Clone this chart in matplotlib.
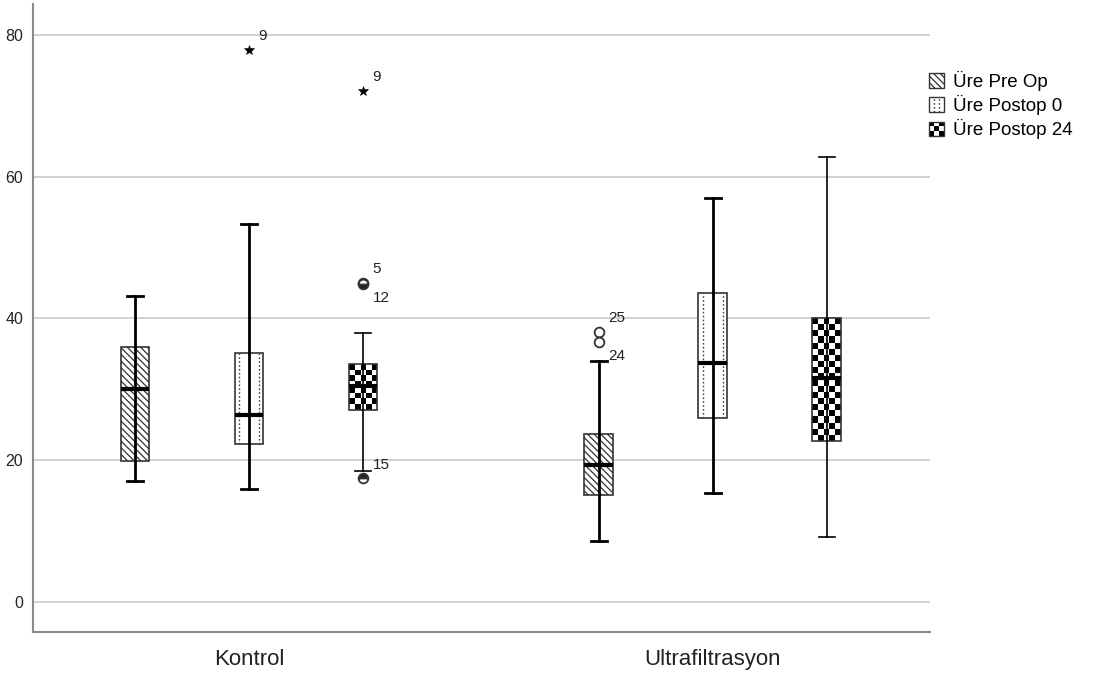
import numpy as np
import matplotlib
matplotlib.use("Agg")
import matplotlib.pyplot as plt
from matplotlib.patches import Rectangle, Patch
from matplotlib.lines import Line2D
from matplotlib.legend_handler import HandlerBase

# ---------------- data ----------------
groups = ["Kontrol", "Ultrafiltrasyon"]
series = ["Üre Pre Op", "Üre Postop 0", "Üre Postop 24"]

# [group][series]
whislo = [[17.0, 15.9, 18.5], [8.5, 15.4, 9.1]]
q1     = [[19.8, 22.2, 27.1], [15.0, 26.0, 22.7]]
med    = [[30.1, 26.4, 30.5], [19.3, 33.7, 31.6]]
q3     = [[35.9, 35.1, 33.5], [23.7, 43.6, 40.0]]
whishi = [[43.1, 53.3, 38.0], [34.0, 57.0, 62.8]]

# outliers: group, series, value, case label
out_group  = [0, 0, 0, 0, 0, 1, 1]
out_series = [1, 2, 2, 2, 2, 0, 0]
out_value  = [77.9, 72.1, 45.0, 44.8, 17.4, 38.1, 36.7]
out_label  = ["9", "9", "5", "12", "15", "25", "24"]
out_kind   = ["extreme", "extreme", "outlier", "outlier", "outlier", "outlier", "outlier"]

yticks = [0, 20, 40, 60, 80]

# ---------------- style / layout ----------------
plt.rcParams['font.family'] = ['Liberation Sans', 'DejaVu Sans']
plt.rcParams['hatch.linewidth'] = 0.9
W, H = 1093, 675
fig = plt.figure(figsize=(W / 100, H / 100), dpi=100)
ax = fig.add_axes([33 / W, 43 / H, 897 / W, 628 / H])

group_centers = [0.0, 4.07]
offsets = [-1.0, 0.0, 1.0]
box_w = 0.254
cap_w = 0.14
line_w = [2.0, 2.0, 1.2]
label_dir = [1, 1, 1, -1, 1, 1, -1]
fill_style = ['full', 'full', 'bottom', 'bottom', 'top', 'none', 'none']

ylim = (-4.28, 84.4)
xlim = (-1.895, 5.974)
ax.set_xlim(*xlim)
ax.set_ylim(*ylim)

ax.set_axisbelow(True)
ax.yaxis.grid(True, color='#cfcfcf', lw=1.3)
for s in ['top', 'right']:
    ax.spines[s].set_visible(False)
for s in ['left', 'bottom']:
    ax.spines[s].set_color('#8a8a8a')
    ax.spines[s].set_linewidth(1.5)

px_per_unit_y = 628 / (ylim[1] - ylim[0])
px_per_unit_x = 897 / (xlim[1] - xlim[0])

for si in range(3):
    stats = []
    pos = []
    for gi in range(2):
        stats.append(dict(whislo=whislo[gi][si], q1=q1[gi][si], med=med[gi][si],
                          q3=q3[gi][si], whishi=whishi[gi][si], fliers=[]))
        pos.append(group_centers[gi] + offsets[si])
    bp = ax.bxp(stats, positions=pos, widths=box_w, capwidths=cap_w,
                patch_artist=True, showfliers=False, manage_ticks=False,
                boxprops=dict(facecolor='white', edgecolor='#333333', lw=1.2),
                whiskerprops=dict(color='black', lw=line_w[si]),
                capprops=dict(color='black', lw=line_w[si]),
                medianprops=dict(color='black', lw=3, solid_capstyle='butt'),
                zorder=3)
    for gi, box in enumerate(bp['boxes']):
        x = pos[gi]
        if si == 0:
            box.set_hatch('\\\\\\\\\\')
        elif si == 1:
            for dx in (-0.34 * box_w, 0.34 * box_w):
                ax.vlines(x + dx, q1[gi][si], q3[gi][si], colors='#444444',
                          lw=1.0, linestyles=(0, (1.2, 1.6)), zorder=3.5)
        else:
            box.set_facecolor('none')
            nrows = max(1, int(round((q3[gi][si] - q1[gi][si]) * px_per_unit_y / 6.0)))
            ncols = max(1, int(round(box_w * px_per_unit_x / 6.0)))
            ii, jj = np.indices((nrows, ncols))
            arr = ((ii + jj) % 2).astype(float)
            im = ax.imshow(arr, cmap='gray', vmin=0, vmax=1, aspect='auto',
                           interpolation='nearest',
                           extent=(x - box_w / 2, x + box_w / 2, q1[gi][si], q3[gi][si]),
                           zorder=2.9)
            im.set_clip_path(box)
        # whisker line showing through box
        ax.vlines(x, q1[gi][si], q3[gi][si], colors='black', lw=line_w[si], zorder=3.6)
    for m in bp['medians']:
        m.set_zorder(4)

ax.set_xlim(*xlim)
ax.set_ylim(*ylim)
ax.set_yticks(yticks)
ax.set_yticklabels([str(v) for v in yticks], fontsize=11.5, color='#222222')
ax.tick_params(axis='y', length=0, pad=7)
ax.set_xticks(group_centers)
ax.set_xticklabels(groups, fontsize=16, color='#222222')
ax.tick_params(axis='x', length=0, pad=12)

# outliers
for k in range(len(out_value)):
    x = group_centers[out_group[k]] + offsets[out_series[k]]
    y = out_value[k]
    if out_kind[k] == 'extreme':
        ax.plot([x], [y], marker='*', ms=7, color='black', mew=0.4, zorder=5)
    else:
        ax.plot([x], [y], marker='o', ms=7, mfc='#222222', mfcalt='white',
                fillstyle=fill_style[k], mec='#333333', mew=1.3, zorder=5)
    ax.annotate(out_label[k], (x, y), xytext=(7, 10 * label_dir[k]),
                textcoords='offset points', fontsize=11, color='#222222',
                ha='left', va='center', zorder=6)


# legend
class DotHandler(HandlerBase):
    def create_artists(self, legend, orig_handle, xd, yd, w, h, fontsize, trans):
        r = Rectangle((-xd, -yd), w, h, fc='white', ec='#333333', lw=1.0, transform=trans)
        arts = [r]
        for fx in (0.33, 0.67):
            arts.append(Line2D([-xd + fx * w] * 2, [-yd, -yd + h], color='#444444', lw=1.0,
                               ls=(0, (1.2, 1.6)), transform=trans))
        return arts


class CheckHandler(HandlerBase):
    def create_artists(self, legend, orig_handle, xd, yd, w, h, fontsize, trans):
        arts = []
        n = 3
        for i in range(n):
            for j in range(n):
                c = 'black' if (i + j) % 2 == 0 else 'white'
                arts.append(Rectangle((-xd + i * w / n, -yd + j * h / n), w / n, h / n,
                                      fc=c, ec='none', transform=trans))
        arts.append(Rectangle((-xd, -yd), w, h, fc='none', ec='#333333', lw=1.0, transform=trans))
        return arts


class HatchHandler(HandlerBase):
    def create_artists(self, legend, orig_handle, xd, yd, w, h, fontsize, trans):
        r = Rectangle((-xd, -yd), w, h, fc='white', ec='#333333', lw=1.0,
                      hatch='\\\\\\\\\\', transform=trans)
        return [r]


h1 = Patch(label=series[0])
h2 = Patch(label=series[1])
h3 = Patch(label=series[2])
fig.legend(handles=[h1, h2, h3], labels=series, loc='upper left',
           bbox_to_anchor=(929 / W, 1 - 71 / H), frameon=False, fontsize=13.5,
           handlelength=0.8, handleheight=0.8, handletextpad=0.5,
           labelspacing=0.22, borderpad=0, borderaxespad=0,
           handler_map={h1: HatchHandler(), h2: DotHandler(), h3: CheckHandler()})

fig.savefig('out.png', dpi=100)
